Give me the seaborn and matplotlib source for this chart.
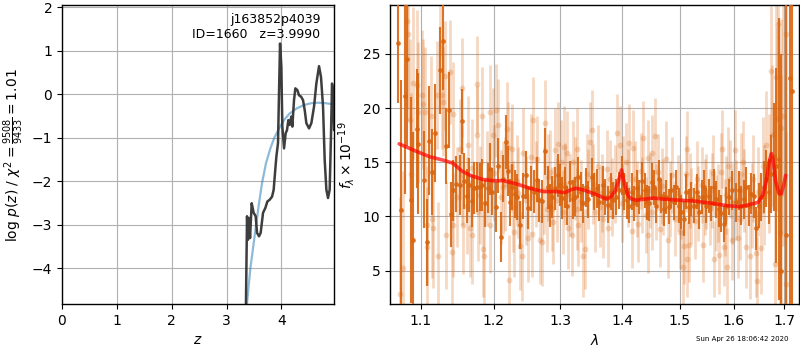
import matplotlib
matplotlib.use("Agg")
import matplotlib.pyplot as plt
from matplotlib.ticker import FixedLocator, FixedFormatter, NullLocator
import seaborn as sns

# ---------------- redshift probability ----------------
pz_z = [3.343, 3.374, 3.392, 3.410, 3.429, 3.459, 3.495, 3.532, 3.556, 3.593,
        3.623, 3.666, 3.708, 3.745, 3.787, 3.830, 3.860, 3.884, 3.909, 3.939,
        3.957, 3.976, 4.000, 4.018, 4.049, 4.079, 4.103, 4.128, 4.152, 4.182,
        4.200, 4.231, 4.255, 4.292, 4.322, 4.359, 4.395, 4.426, 4.456, 4.505,
        4.547, 4.596, 4.638, 4.687, 4.723, 4.760, 4.790, 4.821, 4.851, 4.881,
        4.906, 4.924, 4.942, 4.960]
pz_logp = [-6.0, -2.80, -3.34, -2.84, -3.30, -2.50, -2.72, -2.80, -3.18, -3.26,
           -3.18, -2.72, -2.61, -2.46, -2.42, -2.35, -2.19, -1.81, -1.43, -1.12,
           0.02, 1.17, 0.63, -0.74, -1.24, -0.89, -0.82, -0.59, -0.70, -0.51,
           -0.74, -0.13, 0.14, 0.10, -0.02, -0.05, -0.13, -0.36, -0.66, -0.78,
           -0.66, -0.28, 0.25, 0.65, 0.40, -0.28, -1.50, -2.19, -2.38, -2.19,
           -0.89, 0.25, 0.10, -0.82]

prior_z = [3.37, 3.40, 3.435, 3.49, 3.54, 3.595, 3.65, 3.72, 3.80, 3.87,
           3.97, 4.06, 4.15, 4.28, 4.42, 4.55, 4.67, 4.80, 4.96]
prior_logp = [-4.85, -4.45, -4.0, -3.47, -3.0, -2.48, -2.02, -1.58, -1.24, -1.0,
              -0.75, -0.57, -0.44, -0.32, -0.24, -0.20, -0.19, -0.20, -0.23]

field_name = "j163852p4039"
source_id = 1660
z_best = 3.9990
chi2_num, chi2_den, chi2_red = 9508, 9433, 1.01

# ---------------- spectrum: binned (dark) ----------------
dark_wave = [1.0705, 1.0745, 1.0791, 1.0821, 1.0865, 1.0899, 1.0943, 1.0964, 1.1041, 1.1084,
             1.1106, 1.1149, 1.1185, 1.1251, 1.1296, 1.1341, 1.1376, 1.1409, 1.1431, 1.1477,
             1.1523, 1.1555, 1.1579, 1.1625, 1.1655, 1.1689, 1.1725,
             1.1759, 1.1806, 1.1838, 1.1876, 1.1914, 1.1948, 1.1981, 1.2030, 1.2067, 1.2106,
             1.2140, 1.2179, 1.2212, 1.2237, 1.2271, 1.2311, 1.2344, 1.2385, 1.2434, 1.2469,
             1.2509, 1.2549, 1.2599, 1.2640, 1.2670, 1.2711, 1.2762, 1.2803, 1.2838, 1.2874,
             1.2915, 1.2957, 1.2993, 1.3029,
             1.3071, 1.3107, 1.3149, 1.3192, 1.3228, 1.3281, 1.3319, 1.3361, 1.3404, 1.3441,
             1.3495, 1.3533, 1.3576, 1.3619, 1.3675, 1.3713, 1.3767, 1.3806, 1.3849, 1.3893,
             1.3949, 1.3989, 1.4033, 1.4073, 1.4118, 1.4158, 1.4197, 1.4243, 1.4288, 1.4329,
             1.4386, 1.4424,
             1.4454, 1.4501, 1.4546, 1.4587, 1.4627, 1.4674, 1.4720, 1.4762, 1.4804, 1.4852,
             1.4898, 1.4941, 1.4982, 1.5030, 1.5077, 1.5121, 1.5163, 1.5212, 1.5259, 1.5304,
             1.5346, 1.5396, 1.5444, 1.5488, 1.5531, 1.5581, 1.5630, 1.5675, 1.5718, 1.5769,
             1.5818, 1.5864, 1.5907, 1.5970,
             1.6053, 1.6103, 1.6149, 1.6195, 1.6247, 1.6298, 1.6345, 1.6390, 1.6443, 1.6494,
             1.6542, 1.6588, 1.6642, 1.6694, 1.6742, 1.6788, 1.6843, 1.6896, 1.6930, 1.7046,
             1.7113, 1.7169]
dark_flux = [26.0, 10.6, 21.1, 24.5, 11.5, 7.8, 18.1, 16.7, 13.4, 7.6,
             17.0, 14.1, 17.7, 23.5, 26.2, 16.5, 19.8, 10.2, 12.4, 13.0,
             12.9, 18.8, 13.3, 11.9, 12.9, 11.4, 12.6,
             12.7, 12.7, 12.9, 11.2, 12.6, 14.4, 12.3, 10.9, 14.7, 8.1,
             13.5, 16.9, 14.2, 11.3, 12.7, 12.1, 11.8, 9.2, 11.9, 13.8,
             10.8, 12.6, 12.3, 13.4, 11.5, 11.4, 16.0, 12.7, 11.0, 11.8,
             12.6, 13.8, 12.9, 11.7,
             12.7, 11.0, 13.2, 11.6, 11.8, 13.6, 12.3, 11.2, 12.7, 11.6,
             13.6, 12.3, 12.6, 11.3, 12.9, 11.8, 11.1, 12.3, 11.5, 11.8,
             12.4, 13.8, 12.3, 11.5, 11.0, 12.3, 11.2, 12.6, 11.8, 13.3,
             12.4, 11.3,
             11.2, 13.2, 12.7, 11.0, 13.5, 11.9, 10.7, 11.8, 10.9, 12.4,
             11.3, 12.7, 11.0, 10.4, 9.8, 12.3, 10.9, 11.6, 11.0, 12.3,
             10.4, 11.8, 12.7, 11.0, 11.9, 11.2, 12.7, 11.6, 10.7, 10.3,
             9.3, 11.0, 11.8, 12.4,
             11.3, 12.4, 11.0, 11.6, 12.7, 11.0, 12.1, 11.9, 8.9, 11.0,
             11.8, 12.7, 13.5, 12.3, 13.9, 15.5, 14.7, 15.3, 5.0, 8.3,
             22.8, 21.6]
dark_err = [5.5, 12.0, 9.0, 8.0, 9.5, 10.0, 5.5, 6.5, 4.5, 4.0,
            5.0, 4.0, 4.5, 4.0, 4.5, 3.5, 3.5, 3.0, 2.8, 2.6,
            2.8, 3.0, 2.6, 2.5, 2.5, 2.4, 2.4,
            2.3, 2.2, 2.4, 2.2, 2.3, 2.4, 2.2, 2.3, 2.5, 2.3,
            2.2, 2.5, 2.3, 2.2, 2.1, 2.2, 2.1, 2.2, 2.1, 2.2,
            2.0, 2.1, 2.0, 2.1, 2.0, 2.0, 2.2, 2.0, 2.0, 1.9,
            2.0, 2.0, 1.9, 1.9,
            1.9, 1.8, 1.9, 1.8, 1.8, 1.9, 1.8, 1.8, 1.8, 1.7,
            1.8, 1.7, 1.8, 1.7, 1.8, 1.7, 1.7, 1.7, 1.7, 1.7,
            1.7, 1.8, 1.7, 1.7, 1.6, 1.7, 1.6, 1.7, 1.6, 1.7,
            1.6, 1.6,
            1.6, 1.7, 1.6, 1.6, 1.7, 1.6, 1.6, 1.6, 1.6, 1.6,
            1.6, 1.6, 1.6, 1.6, 1.6, 1.6, 1.6, 1.6, 1.6, 1.6,
            1.6, 1.6, 1.6, 1.6, 1.6, 1.6, 1.7, 1.7, 1.7, 1.7,
            1.7, 1.7, 1.7, 1.8,
            1.8, 1.8, 1.8, 1.8, 1.9, 1.9, 1.9, 2.0, 2.0, 2.1,
            2.2, 2.4, 2.6, 3.0, 3.6, 5.0, 9.0, 13.0, 20.0, 25.0,
            25.0, 25.0]

# ---------------- spectrum: unbinned (light) ----------------
light_wave = [1.0726, 1.0768, 1.0811, 1.0832, 1.0856, 1.0865, 1.0899, 1.0943, 1.0964, 1.1008,
              1.1030, 1.1052, 1.1075, 1.1078, 1.1139, 1.1142, 1.1155, 1.1209, 1.1231, 1.1251,
              1.1274, 1.1296, 1.1319, 1.1332, 1.1389, 1.1421, 1.1435, 1.1437, 1.1482, 1.1527,
              1.1551, 1.1573, 1.1620, 1.1642, 1.1665, 1.1689, 1.1783,
              1.1760, 1.1768, 1.1839, 1.1853, 1.1867, 1.1948, 1.1950, 1.1996, 1.2030, 1.2068,
              1.2141, 1.2190, 1.2213, 1.2223, 1.2262, 1.2286, 1.2301, 1.2337, 1.2386, 1.2411,
              1.2426, 1.2509, 1.2549, 1.2560, 1.2584, 1.2636, 1.2686, 1.2712, 1.2762, 1.2788,
              1.2838, 1.2865, 1.2889, 1.2916, 1.2967, 1.3010, 1.3046,
              1.3050, 1.3107, 1.3123, 1.3176, 1.3192, 1.3256, 1.3266, 1.3282, 1.3352, 1.3389,
              1.3416, 1.3468, 1.3496, 1.3550, 1.3603, 1.3631, 1.3685, 1.3740, 1.3766, 1.3794,
              1.3916, 1.3961, 1.3989, 1.4016, 1.4062, 1.4117, 1.4158, 1.4185, 1.4215, 1.4271,
              1.4312, 1.4356, 1.4403, 1.4442,
              1.4445, 1.4501, 1.4511, 1.4559, 1.4606, 1.4646, 1.4704, 1.4763, 1.4791, 1.4853,
              1.4912, 1.5002, 1.5061, 1.5079, 1.5118, 1.5122, 1.5126, 1.5169, 1.5212, 1.5273,
              1.5304, 1.5396, 1.5426, 1.5488, 1.5549, 1.5611, 1.5630, 1.5675, 1.5718, 1.5769,
              1.5772, 1.5818, 1.5831, 1.5882, 1.5894, 1.5926, 1.5970, 1.5973,
              1.6021, 1.6084, 1.6116, 1.6148, 1.6179, 1.6230, 1.6312, 1.6376, 1.6429, 1.6454,
              1.6540, 1.6571, 1.6637, 1.6742, 1.6762, 1.6808, 1.6842, 1.6854, 1.6874, 1.6908,
              1.6928, 1.6942, 1.6974, 1.7028, 1.7042,
              1.1555, 1.1700, 1.1800, 1.1900, 1.2000, 1.2100, 1.2160, 1.2250, 1.2360, 1.2470,
              1.2620, 1.2740, 1.2810, 1.2950, 1.3080, 1.3150, 1.3230, 1.3320, 1.3430, 1.3520,
              1.3660, 1.3830, 1.3880, 1.4090, 1.4250, 1.4340, 1.4480, 1.4580, 1.4690, 1.4820,
              1.4960, 1.5030, 1.5180, 1.5340, 1.5460, 1.5590, 1.5700, 1.5850, 1.6050, 1.6200,
              1.6350, 1.6480, 1.6600, 1.6700]
light_flux = [2.8, 5.2, 28.0, 26.8, 18.9, 13.9, 22.3, 22.1, 19.6, 21.2,
              20.4, 19.6, 9.2, 7.2, 19.3, 9.8, 8.9, 21.2, 6.3, 29.8,
              21.2, 20.6, 23.0, 8.3, 23.3, 6.7, 19.5, 9.2, 11.8, 16.2,
              21.9, 9.2, 11.0, 16.6, 8.9, 8.3, 10.4,
              17.5, 22.2, 19.3, 7.0, 6.3, 19.6, 9.2, 17.5, 19.8, 18.4,
              12.7, 18.1, 16.4, 4.1, 16.2, 10.9, 8.6, 13.3, 7.3, 6.3,
              15.9, 8.0, 15.5, 8.4, 18.9, 15.3, 7.8, 7.6, 18.6, 10.7,
              14.1, 10.7, 9.5, 16.1, 16.7, 15.0, 10.4,
              16.4, 15.9, 8.9, 8.3, 15.0, 16.2, 10.7, 9.2, 6.3, 7.0,
              13.9, 16.9, 18.0, 10.4, 14.7, 10.9, 9.8, 14.4, 8.9, 13.5,
              17.7, 16.6, 11.2, 13.8, 15.0, 16.8, 8.7, 16.3, 13.5, 9.3,
              14.2, 17.2, 10.1, 8.3,
              15.4, 15.9, 10.4, 17.4, 14.1, 8.8, 11.8, 15.3, 7.8, 13.8,
              9.8, 8.6, 5.3, 7.3, 13.9, 6.1, 16.2, 7.4, 11.0, 9.6,
              13.5, 12.9, 7.4, 12.3, 10.9, 14.0, 6.1, 10.3, 6.4, 14.1,
              16.2, 7.2, 9.9, 5.3, 14.7, 13.5, 7.8, 11.2,
              16.1, 8.0, 9.8, 13.9, 15.0, 7.2, 6.3, 13.5, 6.6, 4.0,
              7.1, 14.7, 16.6, 23.4, 17.5, 5.6, 22.9, 19.0, 27.8, 8.6,
              18.2, 12.1, 19.3, 26.8, 3.8,
              13.8, 14.5, 12.0, 13.5, 14.0, 11.8, 13.0, 14.6, 12.2, 11.5,
              13.0, 12.4, 13.6, 11.5, 13.0, 12.0, 13.5, 11.4, 12.5, 13.0,
              12.2, 11.8, 13.0, 12.6, 11.6, 12.0, 12.4, 11.3, 12.8, 11.6,
              12.2, 11.4, 12.4, 11.2, 11.8, 12.4, 11.2, 12.0, 11.5, 12.4,
              11.0, 12.3, 12.0, 14.0]
light_err = [9.0, 9.0, 8.0, 8.0, 7.5, 7.5, 7.0, 7.0, 6.5, 6.0,
             6.0, 6.0, 5.5, 5.5, 5.5, 5.5, 5.5, 5.0, 5.0, 5.0,
             5.0, 5.0, 5.0, 5.0, 4.8, 4.8, 4.8, 4.8, 4.6, 4.6,
             4.6, 4.5, 4.5, 4.5, 4.5, 4.5, 4.5,
             4.5, 4.5, 4.5, 4.4, 4.4, 4.4, 4.4, 4.4, 4.3, 4.3,
             4.3, 4.3, 4.2, 4.2, 4.2, 4.2, 4.2, 4.2, 4.1, 4.1,
             4.1, 4.1, 4.0, 4.0, 4.0, 4.0, 4.0, 4.0, 4.0, 4.0,
             3.9, 3.9, 3.9, 3.9, 3.9, 3.9, 3.9,
             3.8, 3.8, 3.8, 3.8, 3.8, 3.8, 3.8, 3.8, 3.7, 3.7,
             3.7, 3.7, 3.7, 3.7, 3.7, 3.7, 3.6, 3.6, 3.6, 3.6,
             3.6, 3.6, 3.6, 3.6, 3.6, 3.6, 3.5, 3.5, 3.5, 3.5,
             3.5, 3.5, 3.5, 3.5,
             3.5, 3.5, 3.5, 3.5, 3.5, 3.5, 3.5, 3.5, 3.5, 3.5,
             3.5, 3.5, 3.5, 3.5, 3.5, 3.5, 3.5, 3.5, 3.5, 3.5,
             3.5, 3.5, 3.5, 3.5, 3.5, 3.5, 3.5, 3.5, 3.6, 3.6,
             3.6, 3.6, 3.6, 3.6, 3.6, 3.6, 3.7, 3.7,
             3.7, 3.7, 3.8, 3.8, 3.8, 3.8, 3.9, 4.0, 4.0, 4.1,
             4.3, 4.5, 5.0, 6.0, 6.5, 7.5, 8.0, 8.5, 9.0, 10.0,
             10.0, 11.0, 12.0, 14.0, 14.0,
             4.6, 4.5, 4.5, 4.4, 4.4, 4.3, 4.3, 4.2, 4.2, 4.1,
             4.0, 4.0, 4.0, 3.9, 3.8, 3.8, 3.8, 3.8, 3.7, 3.7,
             3.6, 3.6, 3.6, 3.6, 3.5, 3.5, 3.5, 3.5, 3.5, 3.5,
             3.5, 3.5, 3.5, 3.5, 3.5, 3.5, 3.6, 3.6, 3.7, 3.8,
             3.9, 4.1, 4.6, 5.5]

# ---------------- best-fit model ----------------
model_wave = [1.0716, 1.0943, 1.1119, 1.1296, 1.1433, 1.1551, 1.1665, 1.1853, 1.1996, 1.2141,
              1.2337, 1.2534, 1.2737, 1.2942, 1.3071, 1.3180, 1.3256, 1.3389, 1.3577, 1.3740,
              1.3810, 1.3877, 1.3932, 1.3965, 1.3989, 1.4015, 1.4044, 1.4100, 1.4158, 1.4243,
              1.4530, 1.4704, 1.5002, 1.5304, 1.5611, 1.5863, 1.6116, 1.6312, 1.6475, 1.6574,
              1.6640, 1.6694, 1.6742, 1.6775, 1.6829, 1.6896, 1.6942, 1.6990, 1.7029]
model_flux = [16.7, 16.0, 15.5, 15.2, 14.9, 14.2, 13.8, 13.4, 13.3, 13.3,
              13.0, 12.6, 12.3, 12.3, 12.2, 12.5, 12.6, 12.4, 12.0, 11.6,
              11.8, 12.3, 13.2, 13.8, 14.3, 13.6, 12.9, 11.9, 11.6, 11.5,
              11.7, 11.6, 11.5, 11.4, 11.2, 11.0, 10.9, 11.1, 11.3, 12.0,
              13.3, 15.0, 15.8, 15.2, 13.2, 12.1, 12.1, 12.9, 13.8]

wave_ticks = [1.1, 1.2, 1.3, 1.4, 1.5, 1.6, 1.7]
timestamp = "Sun Apr 26 18:06:42 2020"

# ---------------- styling ----------------
sns.set_theme(style="ticks")
plt.rcParams["font.family"] = ["DejaVu Sans"]
plt.rcParams.update({
    "axes.edgecolor": "black", "axes.linewidth": 1.0,
    "axes.labelcolor": "black", "text.color": "black",
    "xtick.color": "black", "ytick.color": "black",
    "font.size": 10, "axes.labelsize": 10,
    "xtick.labelsize": 10, "ytick.labelsize": 10,
    "xtick.major.size": 3.5, "ytick.major.size": 3.5,
    "xtick.major.width": 0.8, "ytick.major.width": 0.8,
    "grid.color": "#b0b0b0", "grid.linewidth": 0.8,
})

fig = plt.figure(figsize=(8, 3.5), dpi=100)
ax1 = fig.add_axes([0.0775, 0.131, 0.340, 0.854])
ax2 = fig.add_axes([0.4875, 0.131, 0.511, 0.854])

# left: log p(z) and prior
sns.lineplot(x=prior_z, y=prior_logp, ax=ax1, color="tab:blue", alpha=0.5,
             linewidth=1.6, estimator=None, sort=False, errorbar=None)
sns.lineplot(x=pz_z, y=pz_logp, ax=ax1, color="0.2", alpha=0.95,
             linewidth=1.8, estimator=None, sort=False, errorbar=None)
ax1.set_xlim(0, 4.96)
ax1.set_ylim(-4.82, 2.05)
ax1.set_xticks([0, 1, 2, 3, 4])
ax1.set_yticks([-4, -3, -2, -1, 0, 1, 2])
ax1.grid(True)
ax1.set_xlabel("$z$")
ax1.set_ylabel(r"log $p(z)$ / $\chi^2=\frac{%d}{%d}=%.2f$" % (chi2_num, chi2_den, chi2_red))
ax1.text(0.95, 0.975, "%s\nID=%d   z=%.4f" % (field_name, source_id, z_best),
         transform=ax1.transAxes, ha="right", va="top", fontsize=9)

# right: spectrum
ax2.set_xscale("log")
spec_color = "#d9650f"
ax2.errorbar(light_wave, light_flux, yerr=light_err, fmt="o", color=spec_color,
             alpha=0.25, ms=4.2, mew=0, elinewidth=2.0, capsize=0, zorder=2)
ax2.errorbar(dark_wave, dark_flux, yerr=dark_err, fmt="o", color=spec_color,
             alpha=0.9, ms=3.4, mew=0, elinewidth=1.5, capsize=0, zorder=3)
sns.lineplot(x=model_wave, y=model_flux, ax=ax2, color="red", alpha=0.7,
             linewidth=2.6, estimator=None, sort=False, errorbar=None, zorder=4)
ax2.set_xlim(1.0599, 1.730)
ax2.set_ylim(1.9, 29.5)
ax2.xaxis.set_major_locator(FixedLocator(wave_ticks))
ax2.xaxis.set_major_formatter(FixedFormatter(["%.1f" % w for w in wave_ticks]))
ax2.xaxis.set_minor_locator(NullLocator())
ax2.set_yticks([5, 10, 15, 20, 25])
ax2.grid(True)
ax2.set_xlabel(r"$\lambda$")
ax2.set_ylabel(r"$f_\lambda\times10^{-19}$")

fig.text(0.985, 0.03, timestamp, ha="right", va="center", fontsize=5)

fig.savefig("out.png", dpi=100)
